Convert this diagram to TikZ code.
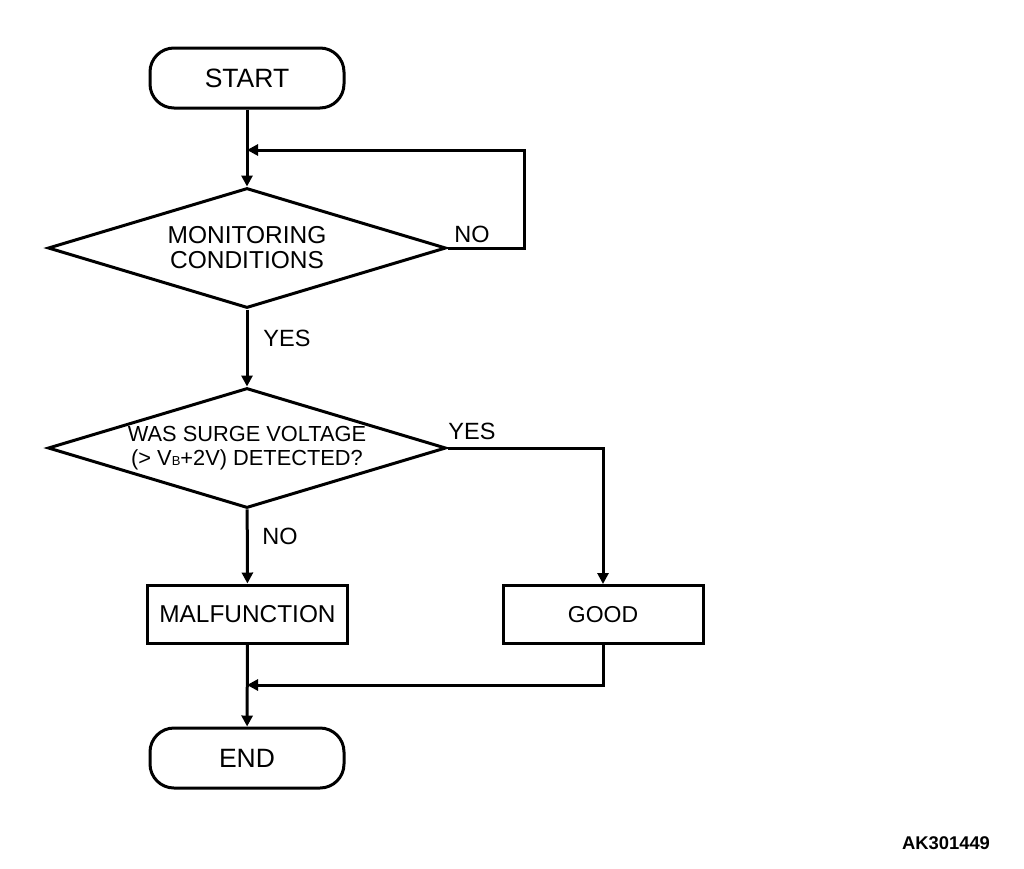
\documentclass[tikz,border=0pt]{standalone}
\usepackage{fontspec}
\setmainfont{Liberation Sans}
\usetikzlibrary{shapes.geometric,arrows.meta}
\begin{document}
\begin{tikzpicture}[x=1pt,y=-1pt,
  line width=3pt,
  arr/.style={-{Triangle[length=11pt,width=11pt]}},
  term/.style={draw,rounded corners=24pt,minimum width=194pt,minimum height=60pt,inner sep=0pt,font=\fontsize{26.5}{28}\selectfont},
  dec/.style={draw,diamond,aspect=3.3167,minimum width=398pt,minimum height=120pt,inner sep=0pt,align=center},
  proc/.style={draw,rectangle,minimum width=200pt,minimum height=58pt,inner sep=0pt,font=\fontsize{24.4}{28}\selectfont},
  lbl/.style={inner sep=0pt,font=\fontsize{23.5}{26}\selectfont}]
\useasboundingbox (0,0) rectangle (1024,868);
\node[term] (start) at (247,78) {START};
\node[dec,font=\fontsize{24.5}{25}\selectfont] (d1) at (247,248) {MONITORING\\CONDITIONS};
\node[dec,font=\fontsize{21.8}{24}\selectfont] (d2) at (247,448) {WAS SURGE VOLTAGE\\(> V{\fontsize{13}{13}\selectfont B}+2V) DETECTED?};
\node[proc] (mal) at (247.5,614) {MALFUNCTION};
\node[proc,font=\fontsize{23}{28}\selectfont] (good) at (603,614.5) {GOOD};
\node[term] (end) at (247,758) {END};
\coordinate (c1) at (524,150);
\coordinate (j) at (247,685);
\draw[arr] (start) -- (d1);
\draw[arr] (d1.east) -| (c1) -- (d1.north |- c1);
\draw[arr] (d1) -- (d2);
\draw[arr] (d2.east) -| (good.north);
\draw[arr] (d2) -- (mal);
\draw[arr] (mal) -- (end);
\draw[arr] (good.south) |- (j);
\node[lbl] (no1) at (472,234) {NO};
\node[lbl] (yes1) at (287,338) {YES};
\node[lbl] (yes2) at (472,431) {YES};
\node[lbl] (no2) at (280,536) {NO};
\node[inner sep=0pt,font=\fontsize{18.4}{20}\selectfont\bfseries] (id) at (946,843) {AK301449};
\end{tikzpicture}
\end{document}
